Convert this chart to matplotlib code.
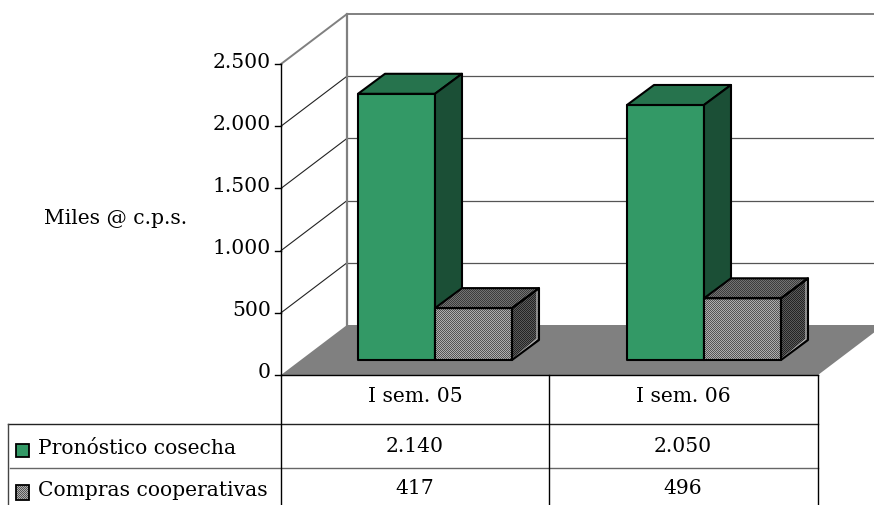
import numpy as np
import matplotlib.pyplot as plt
from matplotlib.patches import Polygon

# 3D column chart with data table, drawn by hand in pixel space

categories = ['I sem. 05', 'I sem. 06']
series = ['Pronóstico cosecha', 'Compras cooperativas']
pronostico = [2140, 2050]
compras = [417, 496]
table_labels = [['2.140', '2.050'], ['417', '496']]
y_ticks = [0, 500, 1000, 1500, 2000, 2500]
y_labels = ['0', '500', '1.000', '1.500', '2.000', '2.500']

W, H = 874, 505
x0, y0 = 281, 375      # front corner of the floor
dx, dy = 66, -50       # depth of the walls
unit = 311 / 2500      # px per value
bar_base = 360
bar_w = 77
bar_dx, bar_dy = 27, -20
group_left = [358, 627]
table_right = 818

GREEN = '#339966'
GREEN_TOP = '#26734d'
GREEN_SIDE = '#1b4f36'
FONT = 'DejaVu Serif'
FS = 14.6

fig = plt.figure(figsize=(W / 100, H / 100), dpi=100)
ax = fig.add_axes([0, 0, 1, 1])
ax.set_xlim(0, W)
ax.set_ylim(H, 0)
ax.axis('off')

yy, xx = np.mgrid[0:H, 0:W]
checker = (xx + yy) % 2


def dither(pts, c1, c2, z):
    # 1px checker pattern clipped to a polygon
    img = np.where(checker[..., None] == 1, np.array(c1), np.array(c2)).astype(float) / 255
    im = ax.imshow(img, extent=(0, W, H, 0), interpolation='none', aspect='auto', zorder=z)
    im.set_clip_path(Polygon(pts, transform=ax.transData))


def box(left, value, kind, z):
    top = bar_base - value * unit
    r = left + bar_w
    front = [(left, bar_base), (left, top), (r, top), (r, bar_base)]
    roof = [(left, top), (left + bar_dx, top + bar_dy), (r + bar_dx, top + bar_dy), (r, top)]
    side = [(r, top), (r + bar_dx, top + bar_dy), (r + bar_dx, bar_base + bar_dy), (r, bar_base)]
    if kind == 'green':
        for pts, c in [(front, GREEN), (roof, GREEN_TOP), (side, GREEN_SIDE)]:
            ax.add_patch(Polygon(pts, fc=c, ec='black', lw=1.5, joinstyle='round', zorder=z))
    else:
        dither(front, (175, 175, 175), (85, 85, 85), z)
        dither(roof, (115, 115, 115), (60, 60, 60), z)
        dither(side, (90, 90, 90), (35, 35, 35), z)
        # light inner edge of the side panel
        ax.plot([r + bar_dx - 2, r + bar_dx - 2, r + 2], [top + bar_dy + 3, bar_base + bar_dy - 1, bar_base - 2],
                color='#b0b0b0', lw=1, zorder=z + 0.1)
        for pts in (front, roof, side):
            ax.add_patch(Polygon(pts, fc='none', ec='black', lw=1.5, joinstyle='round', zorder=z + 0.2))


# walls and gridlines
for v in y_ticks[1:-1]:
    y = y0 - v * unit
    ax.plot([x0, x0 + dx], [y, y + dy], color='#222222', lw=0.8, zorder=1)
    ax.plot([x0 + dx, W], [y + dy, y + dy], color='#555555', lw=0.9, zorder=1)
top_y = y0 - y_ticks[-1] * unit
ax.plot([x0, x0 + dx, W], [top_y, top_y + dy, top_y + dy], color='#808080', lw=1.4, zorder=1)
ax.plot([x0 + dx, x0 + dx], [top_y + dy, y0 + dy], color='#808080', lw=1.6, zorder=1)

# floor
ax.add_patch(Polygon([(x0, y0), (x0 + dx, y0 + dy), (table_right + dx, y0 + dy), (table_right, y0)],
                     fc='#808080', ec='none', zorder=2))

# axis and ticks
ax.plot([x0, x0], [top_y, y0], color='black', lw=1, zorder=3)
for v, lab in zip(y_ticks, y_labels):
    y = y0 - v * unit
    ax.plot([x0 - 6, x0], [y, y], color='black', lw=1, zorder=3)
    ax.text(271, y - 2, lab, ha='right', va='center', family=FONT, fontsize=FS, zorder=3)
ax.text(44, 219, 'Miles @ c.p.s.', ha='left', va='center', family=FONT, fontsize=FS)

# bars
for i, left in enumerate(group_left):
    box(left, pronostico[i], 'green', 4 + i * 2)
    box(left + bar_w, compras[i], 'gray', 5 + i * 2)

# data table
ax.plot([x0, table_right], [y0, y0], color='black', lw=1, zorder=3)
ax.plot([8, table_right], [424, 424], color='#222222', lw=1, zorder=3)
ax.plot([10, table_right], [468, 468], color='#666666', lw=1, zorder=3)
for x in (x0, 549, table_right):
    ax.plot([x, x], [y0, H], color='black', lw=1, zorder=3)
ax.plot([8, 8], [424, H], color='#444444', lw=1, zorder=3)

centers = [415, 683]
for c, lab in zip(centers, categories):
    ax.text(c, 396, lab, ha='center', va='center', family=FONT, fontsize=FS)
rows = [449, 490]
for r, name, vals in zip(rows, series, table_labels):
    ax.text(38, r, name, ha='left', va='center', family=FONT, fontsize=FS)
    for c, lab in zip(centers, vals):
        ax.text(c, r - 2, lab, ha='center', va='center', family=FONT, fontsize=FS)

key = [(16, 444), (29, 444), (29, 457), (16, 457)]
ax.add_patch(Polygon(key, fc=GREEN, ec='black', lw=1.3, zorder=4))
key2 = [(16, 485), (29, 485), (29, 500), (16, 500)]
dither(key2, (175, 175, 175), (85, 85, 85), 4)
ax.add_patch(Polygon(key2, fc='none', ec='black', lw=1.3, zorder=5))

ax.set_xlim(0, W)
ax.set_ylim(H, 0)
fig.savefig('out.png', dpi=100)
